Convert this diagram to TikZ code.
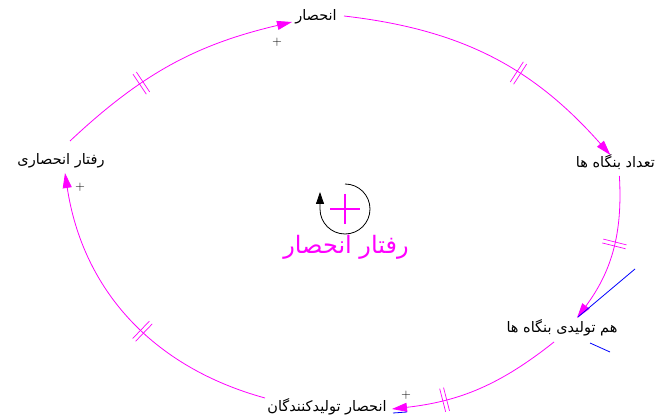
\documentclass[tikz,border=0pt]{standalone}
\usepackage{fontspec}
\usepackage{tikz}
\usetikzlibrary{arrows.meta,decorations.markings}
\newfontfamily\fafont[Script=Arabic]{DejaVu Sans}
\TeXXeTstate=1
\definecolor{vmag}{RGB}{255,0,255}
\tikzset{
var/.style={inner sep=0pt,font=\fafont\fontsize{14.5}{16}\selectfont},
loopname/.style={inner sep=0pt,text=vmag,font=\fafont\fontsize{24}{26}\selectfont},
sign/.style={inner sep=0pt,font=\fontsize{13}{13}\selectfont},
link/.style={vmag,line width=0.8pt,-{Triangle[length=15pt,width=9pt]}},
delay/.style={postaction={decorate,decoration={markings,mark=at position #1 with
  {\draw[vmag,line width=0.7pt,-] (-2pt,-12pt) -- (-2pt,12pt) (2pt,-12pt) -- (2pt,12pt);}}}},
ext/.style={blue,line width=0.8pt},
loopline/.style={black,line width=0.8pt,-{Triangle[length=12pt,width=8pt]}},
loopcross/.style={vmag,line width=1.6pt}
}
\begin{document}
\begin{tikzpicture}[x=1pt,y=-1pt]
\path[use as bounding box,fill=white] (0,0) rectangle (657,417);
% variables
\node[var] (mon) at (316,17) {\beginR انحصار\endR};
\node[var,anchor=east] (nfirm) at (655,162) {\beginR تعداد بنگاه ها\endR};
\node[var] (share) at (562,328) {\beginR هم تولیدی بنگاه ها\endR};
\node[var] (prodmon) at (327,407) {\beginR انحصار تولیدکنندگان\endR};
\node[var] (monbeh) at (61,161) {\beginR رفتار انحصاری\endR};
% links
\draw[link,delay=0.36] ([shift={(9,-20)}]monbeh.center) to[bend left=15] ([shift={(-24,5)}]mon.center);
\draw[link,delay=0.6] ([shift={(28,-1)}]mon.center) to[bend left=21] ([shift={(-5,-7)}]nfirm.center);
\draw[link,delay=0.45] ([shift={(4,14)}]nfirm.center) to[bend left=20] ([shift={(15,-10)}]share.center);
\draw[link,delay=0.7] ([shift={(-8,14)}]share.center) to[bend left=16] ([shift={(65,2)}]prodmon.center);
\draw[link,delay=0.44] ([shift={(-62,-9)}]prodmon.center) to[bend left=33] ([shift={(4,12)}]monbeh.center);
\node[sign] (s1) at (277,42) {+};
\node[sign] (s4) at (406,395) {+};
\node[sign] (s5) at (80,187) {+};
% stray links
\coordinate (b1) at (635,269);
\coordinate (b2) at (610,352);
\coordinate (b3) at (407,412);
\draw[ext] (b1) -- ([shift={(16,-11)}]share.center);
\draw[ext] ([shift={(28,15)}]share.center) -- (b2);
\draw[ext] ([shift={(66,6)}]prodmon.center) -- (b3);
% loop
\coordinate (lsign) at (345,209);
\draw[loopcross] ([shift={(-15,0)}]lsign) -- ([shift={(15,0)}]lsign)
  ([shift={(0,-15)}]lsign) -- ([shift={(0,15)}]lsign);
\draw[loopline] ([shift={(0,-25)}]lsign) arc[start angle=-90,end angle=180,radius=25] -- ++(0,-17);
\node[loopname] (lname) at (346,247) {\beginR رفتار انحصار\endR};
\end{tikzpicture}
\end{document}
